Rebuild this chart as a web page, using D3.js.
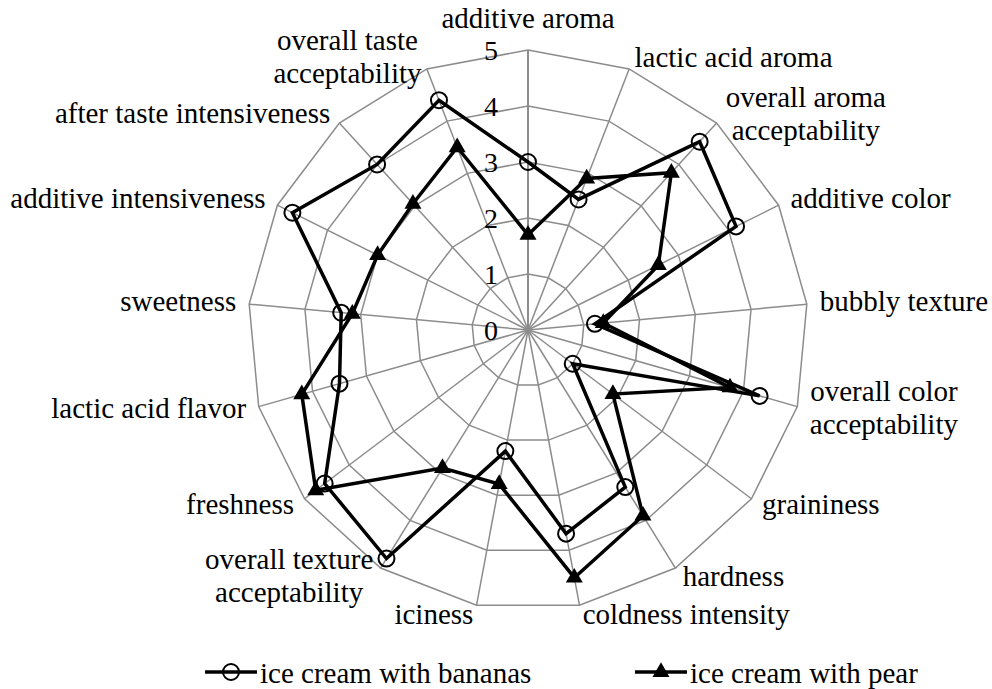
<!DOCTYPE html>
<html>
<head>
<meta charset="utf-8">
<script src="https://cdn.jsdelivr.net/npm/d3@7"></script>
<style>
body { margin: 0; background: #fff; }
text { font-family: "Liberation Serif", "Times New Roman", serif; fill: #000; }
</style>
</head>
<body>
<script>
let width = 992
let height = 689

let categories = ["additive aroma", "lactic acid aroma", "overall aroma acceptability", "additive color",
    "bubbly texture", "overall color acceptability", "graininess", "hardness", "coldness intensity",
    "iciness", "overall texture acceptability", "freshness", "lactic acid flavor", "sweetness",
    "additive intensiveness", "after taste intensiveness", "overall taste acceptability"]

let bananas = [3.0, 2.5, 4.55, 4.15, 1.2, 4.3, 1.0, 3.3, 3.7, 2.2, 4.8, 4.55, 3.5, 3.35, 4.7, 4.0, 4.4]
let pear = [1.7, 2.9, 3.8, 2.6, 1.35, 3.75, 1.9, 3.9, 4.5, 2.8, 2.9, 4.75, 4.2, 3.15, 3.0, 3.05, 3.5]

let ticks = [0, 1, 2, 3, 4, 5]
let seriesNames = ["ice cream with bananas", "ice cream with pear"]

let svg = d3.select("body")
    .append("svg")
    .attr("width", width)
    .attr("height", height)

let cx = 528, cy = 330
let fs = 29, lh = 33

let g = svg.append("g")
    .attr("transform", `translate(${cx},${cy})`)

let r = d3.scaleLinear()
    .domain([0, 5])
    .range([0, 280])

let angle = d3.scaleLinear()
    .domain([0, categories.length])
    .range([0, 2 * Math.PI])

let radial = d3.lineRadial()
    .angle((d, i) => angle(i))
    .radius(d => r(d))
    .curve(d3.curveLinearClosed)

// grid rings
g.selectAll(".ring")
    .data(ticks.slice(1))
    .enter()
    .append("path")
    .attr("d", t => radial(categories.map(() => t)))
    .attr("fill", "none")
    .attr("stroke", "#8c8c8c")
    .attr("stroke-width", 1.5)

// spokes
g.selectAll(".spoke")
    .data(categories)
    .enter()
    .append("line")
    .attr("x1", 0)
    .attr("y1", 0)
    .attr("x2", (d, i) => r(5) * Math.sin(angle(i)))
    .attr("y2", (d, i) => -r(5) * Math.cos(angle(i)))
    .attr("stroke", "#8c8c8c")
    .attr("stroke-width", (d, i) => i == 0 ? 2 : 1.5)

// tick labels
g.selectAll(".tick")
    .data(ticks)
    .enter()
    .append("text")
    .attr("x", -30)
    .attr("y", t => -r(t))
    .attr("dy", "0.35em")
    .attr("text-anchor", "end")
    .attr("font-size", 28)
    .text(t => t)

// category labels
categories.forEach((name, i) => {
    let a = angle(i), s = Math.sin(a), c = Math.cos(a)
    let vx = r(5) * s, vy = -r(5) * c
    let lines = name.startsWith("overall") ? [name.replace(" acceptability", ""), "acceptability"] : [name]
    let t = g.append("text").attr("font-size", fs).attr("text-anchor", "middle")
    let spans = lines.map(l => t.append("tspan").text(l))
    let w = d3.max(spans, sp => sp.node().getComputedTextLength())
    let gap = 12 * Math.abs(s) + 1
    let bx, by
    if (Math.abs(s) < 0.1) {
        bx = vx
        by = vy - 15.6 - lines.length * lh / 2
    } else {
        bx = s > 0 ? vx + gap + w / 2 : vx - gap - w / 2
        by = vy - 11 * c - 2
    }
    let y0 = by - (lines.length - 1) * lh / 2 + 0.35 * fs
    spans.forEach((sp, k) => sp.attr("x", bx).attr("y", y0 + k * lh))
})

// series
let series = [
    { name: seriesNames[0], values: bananas, marker: "circle" },
    { name: seriesNames[1], values: pear, marker: "triangle" }
]

let tri = d3.symbol().type(d3.symbolTriangle).size(125)

function drawMarker(sel, type) {
    if (type == "circle") {
        sel.append("circle")
            .attr("r", 8)
            .attr("fill", "none")
            .attr("stroke", "#000")
            .attr("stroke-width", 2)
    } else {
        sel.append("path")
            .attr("d", tri)
            .attr("fill", "#000")
    }
}

series.forEach(s => {
    g.append("path")
        .attr("d", radial(s.values))
        .attr("fill", "none")
        .attr("stroke", "#000")
        .attr("stroke-width", 3.5)
        .attr("stroke-linejoin", "miter")

    let m = g.selectAll(".m-" + s.marker)
        .data(s.values)
        .enter()
        .append("g")
        .attr("transform", (d, i) => `translate(${r(d) * Math.sin(angle(i))},${-r(d) * Math.cos(angle(i))})`)
    drawMarker(m, s.marker)
})

// legend
let legendX = d3.scaleOrdinal().domain(seriesNames).range([205, 635])
let ly = 672

let leg = svg.selectAll(".legend")
    .data(series)
    .enter()
    .append("g")
    .attr("transform", d => `translate(${legendX(d.name)},${ly})`)

leg.append("line")
    .attr("x1", 0).attr("x2", 52)
    .attr("stroke", "#000")
    .attr("stroke-width", 3.5)

leg.each(function(d) {
    let mk = d3.select(this).append("g").attr("transform", "translate(26,0)")
    drawMarker(mk, d.marker)
})

leg.append("text")
    .attr("x", 55)
    .attr("y", 11)
    .attr("font-size", fs)
    .text(d => d.name)
</script>
</body>
</html>
